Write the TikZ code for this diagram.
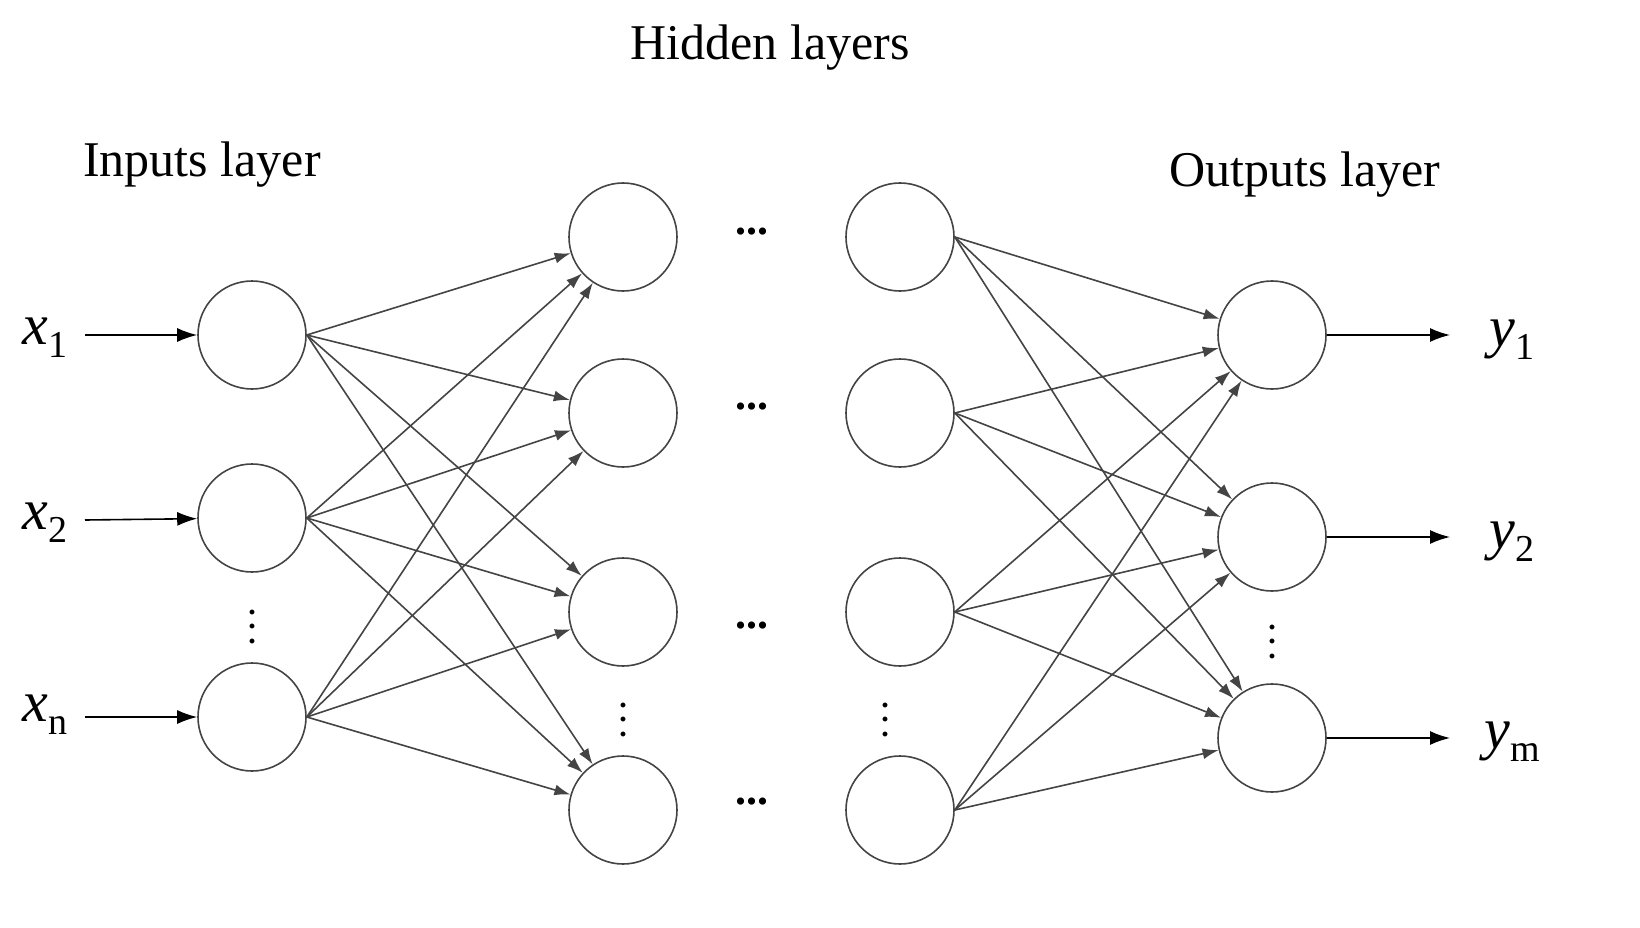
\documentclass[tikz,border=0pt]{standalone}
\usepackage{fontspec}
\setmainfont{Liberation Serif}
\usepackage{xcolor}
\usetikzlibrary{arrows.meta}
\definecolor{C444444}{HTML}{444444}
\newcommand{\varlab}[2]{\textit{#1}\raisebox{-0.22em}{\fontsize{38}{40}\selectfont #2}}
\newcommand{\vdotlab}{\fontsize{30}{12}\selectfont\bfseries\shortstack{.\\[-22pt].\\[-22pt].}}
\tikzset{
  neuron/.style={shape=circle, draw=C444444, line width=1.6pt, minimum size=108pt, inner sep=0pt},
  link/.style={-{Latex[length=16pt,width=11pt]}, line width=1.6pt, draw=C444444},
  feed/.style={-{Latex[length=20pt,width=14pt]}, line width=1.6pt, draw=black},
  title/.style={font=\fontsize{50}{54}\selectfont, inner sep=0pt},
  var/.style={font=\fontsize{58}{60}\selectfont, inner sep=0pt},
  hdots/.style={font=\fontsize{44}{48}\selectfont\bfseries, inner sep=0pt},
  vdots/.style={inner sep=0pt},
}
\begin{document}
\begin{tikzpicture}[x=1pt,y=1pt]
\useasboundingbox (0,0) rectangle (1640,-928);
\node (tH) [title,at={(770pt,-48pt)}] {Hidden layers};
\node (tI) [title,at={(202pt,-165pt)}] {Inputs layer};
\node (tO) [title,at={(1305pt,-175pt)}] {Outputs layer};
% input layer
\node (i1) [neuron,at={(252pt,-335pt)}] {};
\node (i2) [neuron,at={(252pt,-518pt)}] {};
\node (i3) [neuron,at={(252pt,-717pt)}] {};
% first hidden layer
\node (a1) [neuron,at={(623pt,-237pt)}] {};
\node (a2) [neuron,at={(623pt,-413pt)}] {};
\node (a3) [neuron,at={(623pt,-612pt)}] {};
\node (a4) [neuron,at={(623pt,-810pt)}] {};
% last hidden layer
\node (b1) [neuron,at={(900pt,-237pt)}] {};
\node (b2) [neuron,at={(900pt,-413pt)}] {};
\node (b3) [neuron,at={(900pt,-612pt)}] {};
\node (b4) [neuron,at={(900pt,-810pt)}] {};
% output layer
\node (o1) [neuron,at={(1272pt,-335pt)}] {};
\node (o2) [neuron,at={(1272pt,-537pt)}] {};
\node (o3) [neuron,at={(1272pt,-738pt)}] {};
% labels
\node (x1) [var,at={(45pt,-338pt)}] {\varlab{x}{1}};
\node (x2) [var,at={(45pt,-523pt)}] {\varlab{x}{2}};
\node (xn) [var,at={(45pt,-715pt)}] {\varlab{x}{n}};
\node (y1) [var,at={(1512pt,-340pt)}] {\varlab{y}{1}};
\node (y2) [var,at={(1512pt,-542pt)}] {\varlab{y}{2}};
\node (ym) [var,at={(1512pt,-742pt)}] {\varlab{y}{m}};
% dots
\node (d1) [hdots,at={(752pt,-232pt)}] {...};
\node (d2) [hdots,at={(752pt,-407pt)}] {...};
\node (d3) [hdots,at={(752pt,-626pt)}] {...};
\node (d4) [hdots,at={(752pt,-802pt)}] {...};
\node (v1) [vdots,at={(252pt,-615pt)}] {\vdotlab};
\node (v2) [vdots,at={(623pt,-708pt)}] {\vdotlab};
\node (v3) [vdots,at={(885pt,-708pt)}] {\vdotlab};
\node (v4) [vdots,at={(1272pt,-630pt)}] {\vdotlab};
% connections
\coordinate (c1) at (85pt,-335pt);
\coordinate (c2) at (85pt,-520pt);
\coordinate (c3) at (85pt,-717pt);
\coordinate (e1) at (1450pt,-335pt);
\coordinate (e2) at (1450pt,-537pt);
\coordinate (e3) at (1450pt,-738pt);
\path [feed] (c1) -- (i1);
\path [feed] (c2) -- (i2);
\path [feed] (c3) -- (i3);
\path [feed] (o1) -- (e1);
\path [feed] (o2) -- (e2);
\path [feed] (o3) -- (e3);
\foreach \s in {i1,i2,i3} \foreach \t in {a1,a2,a3,a4} \path [link] (\s.east) -- (\t);
\foreach \s in {b1,b2,b3,b4} \foreach \t in {o1,o2,o3} \path [link] (\s.east) -- (\t);
\end{tikzpicture}
\end{document}
